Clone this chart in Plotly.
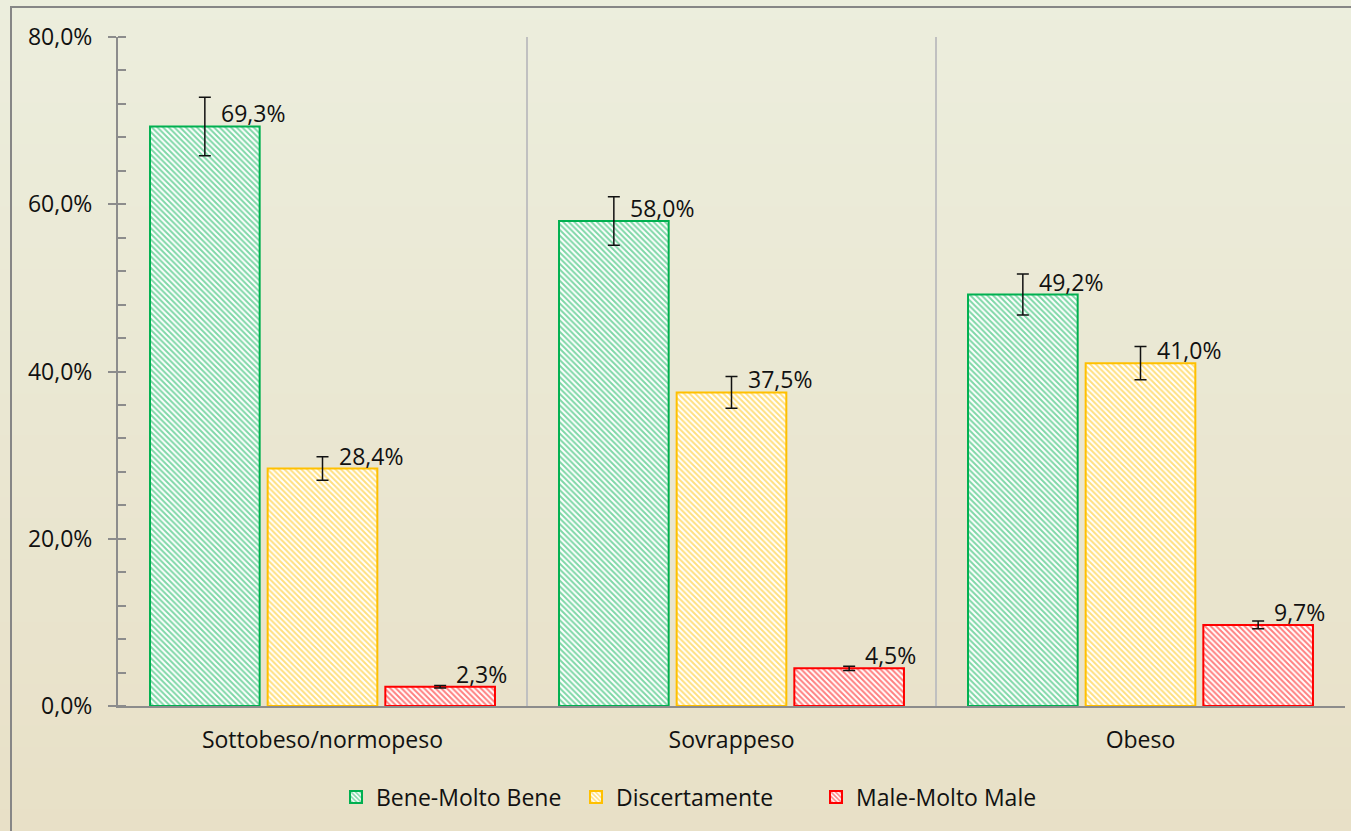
import plotly.graph_objects as go

# ── Data ──────────────────────────────────────────────────────────────────────
categories = ["Sottobeso/normopeso", "Sovrappeso", "Obeso"]

bene       = [69.3, 58.0, 49.2]
bene_err   = [3.5, 2.9, 2.45]
disc       = [28.4, 37.5, 41.0]
disc_err   = [1.4, 1.9, 2.0]
male       = [2.3, 4.5, 9.7]
male_err   = [0.15, 0.25, 0.45]

series = [
    ("Bene-Molto Bene", bene, bene_err, "#00B050"),
    ("Discertamente",   disc, disc_err, "#FFC000"),
    ("Male-Molto Male", male, male_err, "#FF0000"),
]

# ── Styling ───────────────────────────────────────────────────────────────────
W, H = 1351, 831
L, R, T, B = 118, 6, 37, 125
FONT = "Open Sans"
AXIS_GRAY = "#8C8C8C"
BARGAP = 0.137
TOP_COL = (236, 238, 221)
BOT_COL = (232, 224, 199)

plot_w = W - L - R
plot_h = H - T - B


def px_x(p):
    return (p - L) / plot_w


def px_y(p):
    return (H - B - p) / plot_h


def fmt(v):
    return f"{v:.1f}%".replace(".", ",")


fig = go.Figure()
for name, vals, errs, col in series:
    fig.add_trace(go.Bar(
        name=name,
        x=categories,
        y=vals,
        marker=dict(
            color="white",
            line=dict(color=col, width=2),
            pattern=dict(shape="\\", fgcolor=col, bgcolor="white",
                         size=4, solidity=0.5, fillmode="overlay"),
        ),
        error_y=dict(type="data", array=errs, visible=True,
                     color="#111111", thickness=1.5, width=6),
        hoverinfo="skip",
    ))

# value labels, above-right of each bar
slot = (1 - BARGAP) / len(series)
annotations = []
for k, (name, vals, errs, col) in enumerate(series):
    off = (k - (len(series) - 1) / 2) * slot
    for i, v in enumerate(vals):
        annotations.append(dict(
            x=i + off, y=v, xref="x", yref="y",
            text=fmt(v), showarrow=False,
            xanchor="left", yanchor="bottom", xshift=14, yshift=-5,
            font=dict(family=FONT, size=23, color="#111111"),
        ))

# background gradient bands + outer border
shapes = []
n_bands = 40
y_top, y_bot = px_y(0), px_y(H)
for j in range(n_bands):
    t = (j + 0.5) / n_bands
    c = tuple(round(TOP_COL[m] + (BOT_COL[m] - TOP_COL[m]) * t) for m in range(3))
    y1 = y_top + (y_bot - y_top) * j / n_bands
    y0 = y_top + (y_bot - y_top) * (j + 1) / n_bands
    shapes.append(dict(
        type="rect", xref="paper", yref="paper", layer="below",
        x0=px_x(-5), x1=px_x(W + 5), y0=y0 - 0.002, y1=y1 + 0.002,
        fillcolor=f"rgb{c}", line=dict(width=0),
    ))
shapes.append(dict(
    type="rect", xref="paper", yref="paper", layer="above",
    x0=px_x(11), x1=px_x(W + 20), y0=px_y(H + 20), y1=px_y(7),
    line=dict(color="#868686", width=2), fillcolor="rgba(0,0,0,0)",
))

fig.update_layout(
    width=W, height=H,
    margin=dict(l=L, r=R, t=T, b=B),
    paper_bgcolor="rgb(234,232,212)",
    plot_bgcolor="rgba(0,0,0,0)",
    font=dict(family=FONT, size=23, color="#111111"),
    separators=",.",
    barmode="group",
    bargap=BARGAP,
    bargroupgap=0.068,
    showlegend=True,
    legend=dict(
        orientation="h", x=px_x(696), xanchor="center",
        y=px_y(797), yanchor="middle",
        entrywidth=195, entrywidthmode="pixels",
        font=dict(family=FONT, size=23, color="#111111"),
        bgcolor="rgba(0,0,0,0)", itemclick=False,
    ),
    xaxis=dict(
        type="category",
        tickson="boundaries",
        showgrid=True, gridcolor="#C0C0C0", gridwidth=2,
        showline=True, linecolor=AXIS_GRAY, linewidth=2,
        ticks="", ticklabelstandoff=12,
        tickfont=dict(family=FONT, size=23, color="#111111"),
        zeroline=False,
    ),
    yaxis=dict(
        range=[0, 80], dtick=20, tickformat=".1f", ticksuffix="%",
        showgrid=False, zeroline=False,
        showline=True, linecolor=AXIS_GRAY, linewidth=2,
        ticks="outside", ticklen=8, tickwidth=2, tickcolor=AXIS_GRAY,
        ticklabelstandoff=11,
        minor=dict(dtick=4, ticks="inside", ticklen=8, tickwidth=2,
                   tickcolor=AXIS_GRAY, showgrid=False),
        tickfont=dict(family=FONT, size=23, color="#111111"),
    ),
    annotations=annotations,
    shapes=shapes,
)

# drop the page's default body margin so the figure sits at the window origin
fig.write_html(
    "out.html",
    config={"displayModeBar": False},
    post_script="document.body.style.margin='0';document.body.style.overflow='hidden';",
)
